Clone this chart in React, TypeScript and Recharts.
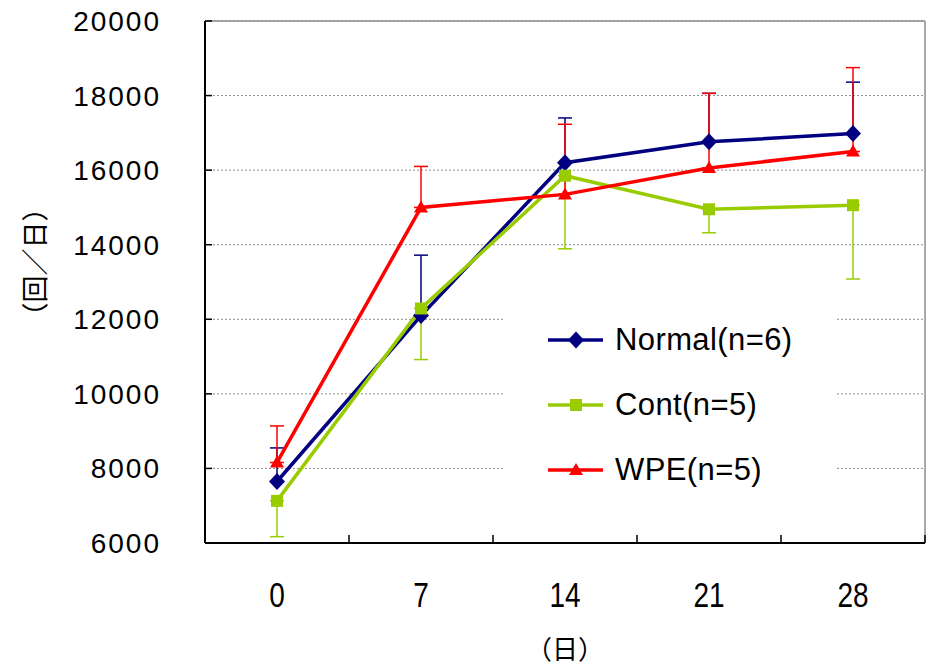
import React from "react";
import {
  LineChart,
  Line,
  XAxis,
  YAxis,
  CartesianGrid,
  ErrorBar,
  Legend,
  ReferenceLine,
} from "recharts";

const days = ["0", "7", "14", "21", "28"];

const normalMean = [7650, 12100, 16200, 16760, 16980];
const normalSE = [900, 1620, 1200, 1300, 1380];
const contMean = [7130, 12290, 15850, 14950, 15060];
const contSE = [960, 1370, 1960, 630, 1980];
const wpeMean = [8160, 15000, 15350, 16060, 16500];
const wpeSE = [980, 1100, 1880, 2000, 2250];

const yTicks = [6000, 8000, 10000, 12000, 14000, 16000, 18000, 20000];

const seriesOrder = ["normal", "cont", "wpe"];

const NAVY = "#000080";
const LIME = "#99cc00";
const RED = "#ff0000";

// Normal / WPE show the upper bar only, Cont the lower one
const data = days.map((day, i) => ({
  idx: i,
  day,
  normal: normalMean[i],
  normalErr: [0, normalSE[i]],
  cont: contMean[i],
  contErr: [contSE[i], 0],
  wpe: wpeMean[i],
  wpeErr: [0, wpeSE[i]],
}));

// category boundaries (tick marks) and centres (labels)
const xTicks = [...days.flatMap((_, i) => [i - 0.5, i]), days.length - 0.5];

const sans = "'Liberation Sans', Arial, sans-serif";
const cjk = "'Noto Sans CJK JP', 'Noto Sans', sans-serif";

const diamond = (cx: number, cy: number, color: string) => (
  <polygon
    points={`${cx},${cy - 8.5} ${cx + 8},${cy} ${cx},${cy + 8.5} ${cx - 8},${cy}`}
    fill={color}
  />
);
const square = (cx: number, cy: number, color: string) => (
  <rect x={cx - 6} y={cy - 6} width={12} height={12} fill={color} />
);
const triangle = (cx: number, cy: number, color: string) => (
  <polygon
    points={`${cx},${cy - 7} ${cx + 7},${cy + 5} ${cx - 7},${cy + 5}`}
    fill={color}
  />
);

const markers: Record<string, (cx: number, cy: number, c: string) => React.ReactElement> = {
  normal: diamond,
  cont: square,
  wpe: triangle,
};

const makeDot = (key: string, color: string) => (p: any) => (
  <g key={p.key}>{markers[key](p.cx, p.cy, color)}</g>
);

const DayTick = (props: any) => {
  const { x, y, payload } = props;
  const v = payload.value;
  if (!Number.isInteger(v)) {
    return <line x1={x} x2={x} y1={y} y2={y - 8} stroke="#000" strokeWidth={1.5} />;
  }
  // narrow digits like the original
  return (
    <g transform={`translate(${x}, ${y + 64}) scale(0.8, 1)`}>
      <text x={0} y={0} textAnchor="middle" fontFamily={sans} fontSize={35} fill="#000">
        {days[v]}
      </text>
    </g>
  );
};

const YTitle = (props: any) => {
  const vb = props.viewBox;
  const x = vb.x + 33;
  const y = vb.y + vb.height / 2 - 20;
  return (
    <text
      x={x}
      y={y}
      transform={`rotate(-90, ${x}, ${y})`}
      textAnchor="middle"
      dominantBaseline="central"
      fontFamily={cjk}
      fontSize={27}
      fill="#000"
    >
      （回／日）
    </text>
  );
};

const XTitle = (props: any) => {
  const vb = props.viewBox;
  return (
    <text
      x={vb.x + vb.width / 2}
      y={vb.y + 104}
      textAnchor="middle"
      dominantBaseline="central"
      fontFamily={cjk}
      fontSize={26}
      fill="#000"
    >
      （日）
    </text>
  );
};

const LegendBox = (props: any) => {
  const items = [...(props.payload || [])].sort(
    (a: any, b: any) => seriesOrder.indexOf(a.dataKey) - seriesOrder.indexOf(b.dataKey)
  );
  return (
    <div style={{ paddingTop: 17 }}>
      {items.map((it: any) => (
        <div
          key={it.dataKey}
          style={{ display: "flex", alignItems: "center", height: 65 }}
        >
          <svg width={112} height={24}>
            <line x1={45} x2={100} y1={12} y2={12} stroke={it.color} strokeWidth={3.5} />
            {markers[it.dataKey](73, 12, it.color)}
          </svg>
          <span
            style={{
              fontFamily: sans,
              fontSize: 31,
              letterSpacing: 0.4,
              color: "#000",
              whiteSpace: "nowrap",
            }}
          >
            {it.value}
          </span>
        </div>
      ))}
    </div>
  );
};

export default function App() {
  return (
    <div style={{ position: "absolute", left: 0, top: 0 }}>
      <LineChart
        width={932}
        height={668}
        data={data}
        margin={{ top: 21, right: 7, left: 0, bottom: 0 }}
      >
        <CartesianGrid
          vertical={false}
          stroke="#8c8c8c"
          strokeDasharray="2 2"
        />
        <ReferenceLine y={20000} stroke="#8c8c8c" strokeWidth={1.5} />
        <ReferenceLine x={4.5} stroke="#8c8c8c" strokeWidth={1.5} />
        <XAxis
          type="number"
          dataKey="idx"
          domain={[-0.5, 4.5]}
          ticks={xTicks}
          interval={0}
          height={125}
          tickSize={0}
          tickMargin={0}
          tickLine={false}
          tick={<DayTick />}
          axisLine={{ stroke: "#000", strokeWidth: 2 }}
          label={<XTitle />}
        />
        <YAxis
          type="number"
          domain={[6000, 20000]}
          ticks={yTicks}
          interval={0}
          width={205}
          tickSize={-7}
          tickMargin={51}
          tickLine={{ stroke: "#000", strokeWidth: 1.5 }}
          axisLine={{ stroke: "#000", strokeWidth: 2 }}
          tick={{ fill: "#000", fontFamily: sans, fontSize: 28, letterSpacing: 2 }}
          label={<YTitle />}
        />
        <Legend
          layout="vertical"
          align="center"
          verticalAlign="middle"
          content={LegendBox}
          wrapperStyle={{
            left: 503,
            top: 290,
            width: 332,
            height: 210,
            background: "#fff",
          }}
        />
        <Line
          type="linear"
          dataKey="normal"
          name="Normal(n=6)"
          stroke={NAVY}
          strokeWidth={3.5}
          dot={makeDot("normal", NAVY)}
          activeDot={false}
          isAnimationActive={false}
        >
          <ErrorBar dataKey="normalErr" direction="y" width={7} stroke={NAVY} strokeWidth={1.5} />
        </Line>
        <Line
          type="linear"
          dataKey="cont"
          name="Cont(n=5)"
          stroke={LIME}
          strokeWidth={3.5}
          dot={makeDot("cont", LIME)}
          activeDot={false}
          isAnimationActive={false}
        >
          <ErrorBar dataKey="contErr" direction="y" width={7} stroke={LIME} strokeWidth={1.5} />
        </Line>
        <Line
          type="linear"
          dataKey="wpe"
          name="WPE(n=5)"
          stroke={RED}
          strokeWidth={3.5}
          dot={makeDot("wpe", RED)}
          activeDot={false}
          isAnimationActive={false}
        >
          <ErrorBar dataKey="wpeErr" direction="y" width={7} stroke={RED} strokeWidth={1.5} />
        </Line>
      </LineChart>
    </div>
  );
}
